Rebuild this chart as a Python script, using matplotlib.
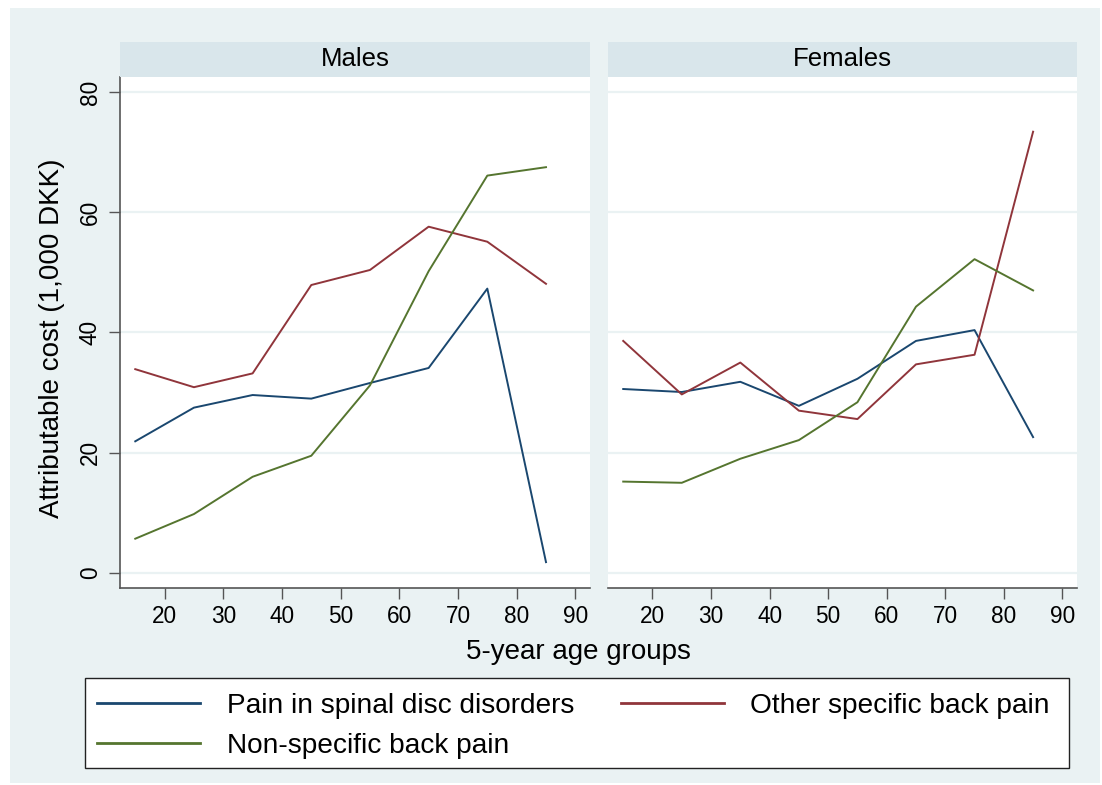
import matplotlib
matplotlib.use("Agg")
import matplotlib.pyplot as plt
from matplotlib.patches import Rectangle
from matplotlib.lines import Line2D

plt.rcParams['font.family'] = ['Liberation Sans', 'DejaVu Sans']

ages = [15, 25, 35, 45, 55, 65, 75, 85]
panels = ["Males", "Females"]
series_names = ["Pain in spinal disc disorders", "Other specific back pain", "Non-specific back pain"]
series_colors = ["#1A476F", "#90353B", "#55752F"]

male_disc = [21.9, 27.5, 29.6, 29.0, 31.6, 34.1, 47.3, 1.8]
male_other = [33.9, 30.9, 33.2, 47.9, 50.4, 57.6, 55.1, 48.1]
male_nonspec = [5.7, 9.8, 16.0, 19.5, 31.2, 50.2, 66.1, 67.5]

female_disc = [30.6, 30.1, 31.8, 27.8, 32.3, 38.6, 40.4, 22.6]
female_other = [38.6, 29.7, 35.0, 27.0, 25.6, 34.7, 36.3, 73.4]
female_nonspec = [15.2, 15.0, 19.0, 22.1, 28.4, 44.3, 52.2, 47.0]

xticks = [20, 30, 40, 50, 60, 70, 80, 90]
yticks = [0, 20, 40, 60, 80]

W, H = 1102, 785
fig = plt.figure(figsize=(W / 100, H / 100), dpi=100, facecolor="white")

BG = "#EAF2F3"
STRIP = "#D9E6EB"
fig.patches.append(Rectangle((10 / W, 1 - 783 / H), 1090 / W, 775 / H,
                             transform=fig.transFigure, facecolor=BG,
                             edgecolor="none", zorder=-10))

panel_x = [(120, 590), (608, 1077)]
top_strip, top_plot, bottom_plot = 42, 77, 588
data = [[male_disc, male_other, male_nonspec],
        [female_disc, female_other, female_nonspec]]

TICKFS = 16.3

for i, (name, (x0, x1)) in enumerate(zip(panels, panel_x)):
    ax = fig.add_axes([x0 / W, 1 - bottom_plot / H, (x1 - x0) / W,
                       (bottom_plot - top_plot) / H])
    ax.set_zorder(1)
    ax.set_facecolor("white")
    for yv in yticks:
        ax.axhline(yv, color=BG, lw=1.6, zorder=1)
    for vals, col in zip(data[i], series_colors):
        ax.plot(ages, vals, color=col, lw=1.4, zorder=3)
    ax.set_xlim(12.4, 92.5)
    ax.set_ylim(-2.5, 82.5)
    ax.set_xticks(xticks)
    ax.set_xticklabels([str(t) for t in xticks], fontsize=TICKFS)
    ax.tick_params(axis='x', direction='out', length=8, width=1,
                   color="#555555", pad=4)
    for s in ["top", "right"]:
        ax.spines[s].set_visible(False)
    ax.spines["bottom"].set_color("#555555")
    ax.spines["bottom"].set_linewidth(1.2)
    if i == 0:
        ax.set_yticks(yticks)
        ax.set_yticklabels([str(t) for t in yticks], fontsize=TICKFS,
                           rotation=90, va="center")
        ax.tick_params(axis='y', direction='out', length=8, width=1,
                       color="#555555", pad=5)
        ax.spines["left"].set_color("#555555")
        ax.spines["left"].set_linewidth(1.2)
    else:
        ax.set_yticks([])
        ax.spines["left"].set_visible(False)
    # strip header
    sax = fig.add_axes([x0 / W, 1 - top_plot / H, (x1 - x0) / W,
                        (top_plot - top_strip) / H])
    sax.set_zorder(1)
    sax.set_facecolor(STRIP)
    sax.set_xticks([])
    sax.set_yticks([])
    for s in sax.spines.values():
        s.set_visible(False)
    sax.text(0.5, 0.5, name, ha="center", va="center", fontsize=18.5,
             transform=sax.transAxes)

fig.text(52 / W, 1 - 338 / H, "Attributable cost (1,000 DKK)", rotation=90,
         ha="center", va="center", fontsize=20)
fig.text(578 / W, 1 - 652 / H, "5-year age groups", ha="center",
         va="center", fontsize=20)

# legend frame
fig.patches.append(Rectangle((85 / W, 1 - 768 / H), (1069 - 85) / W, 90 / H,
                             transform=fig.transFigure, facecolor="white",
                             edgecolor="#222222", lw=1.0, zorder=2))

handles = [Line2D([], [], color=c, lw=2) for c in series_colors]
order = [0, 2, 1]
leg = fig.legend([handles[k] for k in order], [series_names[k] for k in order],
                 ncol=2, loc="upper left",
                 bbox_to_anchor=(97 / W, 1 - 693 / H),
                 fontsize=20.2, frameon=False,
                 handlelength=3.67, handletextpad=0.96,
                 labelspacing=0.49, borderpad=0, borderaxespad=0,
                 columnspacing=1.65)
leg.set_zorder(3)

fig.savefig("out.png", dpi=100, facecolor="white")
